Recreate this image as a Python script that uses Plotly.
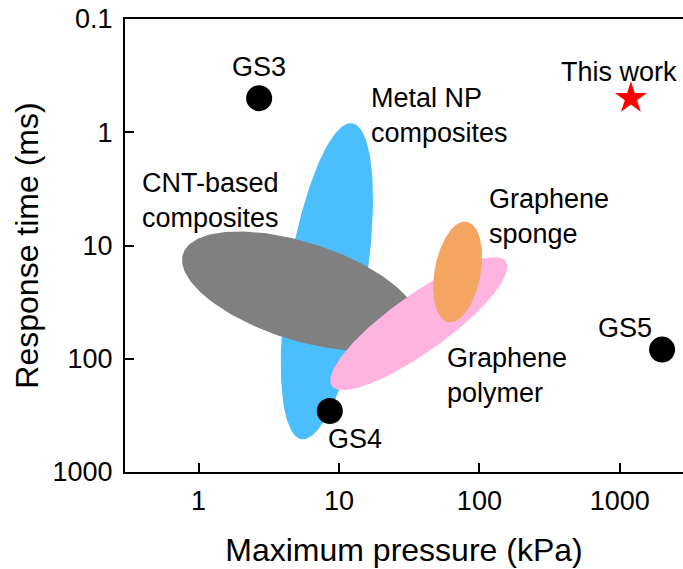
import numpy as np
import plotly.graph_objects as go

# Individual graphene sensors: maximum pressure (kPa) vs response time (ms)
point_names = ["GS3", "GS4", "GS5"]
point_pressure = [2.7, 8.6, 2000]
point_time = [0.5, 289, 83]

this_work_name = "This work"
this_work_pressure = [1200]
this_work_time = [0.5]

# Material classes, each shown as a cloud around its typical values
region_names = ["Metal NP<br>composites", "CNT-based<br>composites",
                "Graphene<br>polymer", "Graphene<br>sponge"]
region_pressure = [8.2, 5.3, 37, 70]
region_time = [20.7, 25.3, 49, 17.1]

# Figure geometry
W, H = 683, 569
ML, MR, MT, MB = 125, 0, 19, 97
X_RANGE = [-0.524, 3.45]     # log10(kPa)
Y_RANGE = [3, -1]            # log10(ms), reversed: fast at the top
px_x = (W - ML - MR) / (X_RANGE[1] - X_RANGE[0])
px_y = (H - MT - MB) / abs(Y_RANGE[0] - Y_RANGE[1])

# cloud outline: semi-axes on screen (px) and tilt (deg, counter-clockwise)
region_style = [
    dict(a=160, b=39, tilt=80.85, color="#4BBEFE"),
    dict(a=123, b=49, tilt=-17.6, color="#808080"),
    dict(a=107, b=28.5, tilt=35.6, color="#FFB3DF"),
    dict(a=51, b=23, tilt=79.6, color="#F4A562"),
]


def cloud(p, t, a, b, tilt):
    """Outline of a tilted ellipse around (p, t) on the log-log axes."""
    s = np.linspace(0, 2 * np.pi, 181)
    th = np.radians(tilt)
    dx = a * np.cos(s) * np.cos(th) - b * np.sin(s) * np.sin(th)
    dy = a * np.cos(s) * np.sin(th) + b * np.sin(s) * np.cos(th)
    lx = np.log10(p) + dx / px_x
    ly = np.log10(t) - dy / px_y
    return 10 ** lx, 10 ** ly


fig = go.Figure()

for name, p, t, st in zip(region_names, region_pressure, region_time, region_style):
    xs, ys = cloud(p, t, st["a"], st["b"], st["tilt"])
    fig.add_trace(go.Scatter(
        x=xs, y=ys, mode="lines", fill="toself", fillcolor=st["color"],
        line=dict(width=0, color=st["color"]), hoverinfo="skip",
        name=name.replace("<br>", " "), showlegend=False))

fig.add_trace(go.Scatter(
    x=point_pressure, y=point_time, mode="markers",
    marker=dict(symbol="circle", size=26, color="black"),
    name="Graphene sensors", showlegend=False))

fig.add_trace(go.Scatter(
    x=this_work_pressure, y=this_work_time, mode="markers",
    marker=dict(symbol="star", size=24, color="#FF0000"),
    name=this_work_name, showlegend=False))

FONT = "Liberation Sans, Arial, sans-serif"
LABEL_SIZE = 27

# labels beside the individual sensors (pixel offsets from each marker)
point_label_shift = {"GS3": (0, 31), "GS4": (25, -28), "GS5": (-37, 22)}
for name, p, t in zip(point_names, point_pressure, point_time):
    sx, sy = point_label_shift[name]
    fig.add_annotation(x=np.log10(p), y=np.log10(t), text=name, showarrow=False,
                       xshift=sx, yshift=sy,
                       font=dict(family=FONT, size=LABEL_SIZE, color="black"))
fig.add_annotation(x=np.log10(this_work_pressure[0]), y=np.log10(this_work_time[0]),
                   text=this_work_name, showarrow=False, xshift=-12, yshift=26,
                   font=dict(family=FONT, size=LABEL_SIZE, color="black"))

# class labels (log10 coordinates of their left edge / vertical centre)
region_label_pos = [(1.213, -0.151), (-0.416, 0.601), (1.755, 2.144), (2.051, 0.742)]
for name, (lx, ly) in zip(region_names, region_label_pos):
    fig.add_annotation(x=lx, y=ly, text=name, showarrow=False,
                       xanchor="left", yanchor="middle", align="left",
                       font=dict(family=FONT, size=LABEL_SIZE, color="black"))

x_ticks = [1, 10, 100, 1000]
y_ticks = [0.1, 1, 10, 100, 1000]

axis_common = dict(
    type="log", showgrid=False, zeroline=False,
    showline=True, linewidth=2, linecolor="black",
    ticks="inside", ticklen=9, tickwidth=2, tickcolor="black",
    tickfont=dict(family=FONT, size=27, color="black"),
)

fig.update_layout(
    width=W, height=H,
    margin=dict(l=ML, r=MR, t=MT, b=MB, autoexpand=False),
    paper_bgcolor="white", plot_bgcolor="white",
    showlegend=False,
    xaxis=dict(**axis_common, range=X_RANGE, mirror=True,
               tickvals=x_ticks, ticktext=[f"{v:g}" for v in x_ticks],
               ticklabelstandoff=4,
               title=dict(text="Maximum pressure (kPa)", standoff=23,
                          font=dict(family=FONT, size=32, color="black"))),
    yaxis=dict(**axis_common, range=Y_RANGE,
               tickvals=y_ticks, ticktext=[f"{v:g}" for v in y_ticks],
               ticklabelstandoff=5,
               title=dict(text="Response time (ms)", standoff=4,
                          font=dict(family=FONT, size=32, color="black"))),
)

fig.write_html("out.html")
